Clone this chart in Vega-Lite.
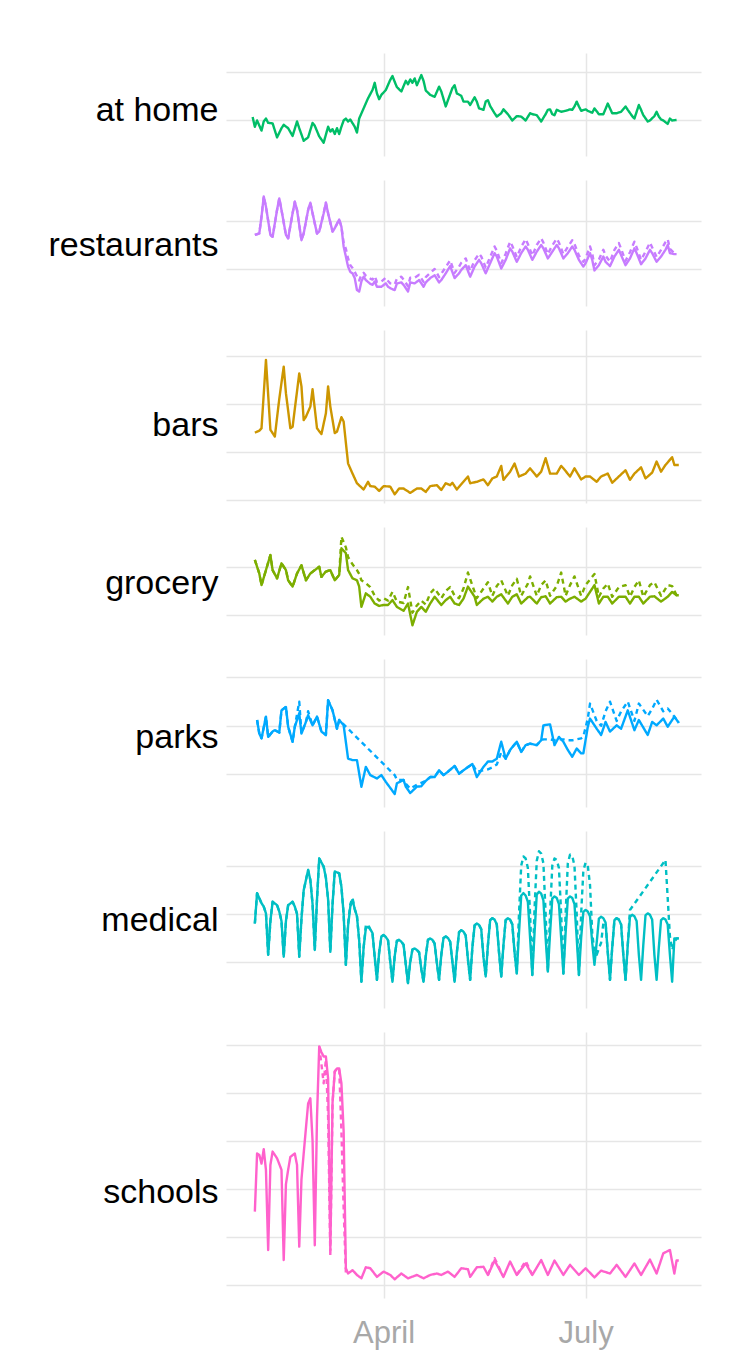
{
  "$schema": "https://vega.github.io/schema/vega-lite/v6.json",
  "background": "white",
  "padding": {"left": 47, "top": 53, "right": 20, "bottom": 10},
  "config": {
    "view": {"stroke": null},
    "axis": {"grid": true, "gridColor": "#e6e6e6", "gridWidth": 1.5, "domain": false, "ticks": false, "labels": false},
    "axisY": {"titleAngle": 0, "titleAlign": "right", "titleBaseline": "alphabetic", "titleX": -8, "titleFont": "Liberation Sans", "titleFontSize": 34, "titleFontWeight": "normal", "titleColor": "#000000"},
    "line": {"strokeWidth": 2.4, "strokeJoin": "round"}
  },
  "datasets": {
    "home": [
      {"t":"2020-02-02","v":0.06},{"t":"2020-02-03","v":-0.14},{"t":"2020-02-04","v":-0.01},{"t":"2020-02-06","v":-0.22},{"t":"2020-02-07","v":-0.03},{"t":"2020-02-08","v":0.03},{"t":"2020-02-09","v":-0.06},{"t":"2020-02-11","v":-0.07},{"t":"2020-02-13","v":-0.36},{"t":"2020-02-15","v":-0.17},{"t":"2020-02-16","v":-0.10},{"t":"2020-02-18","v":-0.17},{"t":"2020-02-20","v":-0.33},{"t":"2020-02-22","v":-0.03},{"t":"2020-02-23","v":-0.17},{"t":"2020-02-25","v":-0.43},{"t":"2020-02-27","v":-0.36},{"t":"2020-02-29","v":-0.06},
      {"t":"2020-03-01","v":-0.12},{"t":"2020-03-03","v":-0.34},{"t":"2020-03-05","v":-0.47},{"t":"2020-03-07","v":-0.14},{"t":"2020-03-08","v":-0.24},{"t":"2020-03-09","v":-0.19},{"t":"2020-03-10","v":-0.29},{"t":"2020-03-11","v":-0.17},{"t":"2020-03-12","v":-0.29},{"t":"2020-03-13","v":-0.14},{"t":"2020-03-14","v":-0.01},{"t":"2020-03-15","v":0.03},{"t":"2020-03-16","v":-0.03},{"t":"2020-03-17","v":0.01},{"t":"2020-03-19","v":-0.14},{"t":"2020-03-20","v":-0.26},{"t":"2020-03-21","v":0.03},{"t":"2020-03-23","v":0.24},{"t":"2020-03-25","v":0.45},{"t":"2020-03-27","v":0.62},{"t":"2020-03-28","v":0.77},{"t":"2020-03-29","v":0.55},{"t":"2020-03-30","v":0.43},{"t":"2020-03-31","v":0.52},
      {"t":"2020-04-02","v":0.62},{"t":"2020-04-04","v":0.83},{"t":"2020-04-05","v":0.91},{"t":"2020-04-06","v":0.79},{"t":"2020-04-07","v":0.68},{"t":"2020-04-09","v":0.59},{"t":"2020-04-11","v":0.81},{"t":"2020-04-12","v":0.74},{"t":"2020-04-13","v":0.84},{"t":"2020-04-14","v":0.77},{"t":"2020-04-15","v":0.86},{"t":"2020-04-16","v":0.72},{"t":"2020-04-18","v":0.93},{"t":"2020-04-19","v":0.81},{"t":"2020-04-20","v":0.61},{"t":"2020-04-22","v":0.52},{"t":"2020-04-24","v":0.48},{"t":"2020-04-26","v":0.69},{"t":"2020-04-27","v":0.59},{"t":"2020-04-29","v":0.28},{"t":"2020-04-30","v":0.41},
      {"t":"2020-05-02","v":0.66},{"t":"2020-05-03","v":0.72},{"t":"2020-05-04","v":0.55},{"t":"2020-05-06","v":0.50},{"t":"2020-05-07","v":0.38},{"t":"2020-05-09","v":0.38},{"t":"2020-05-10","v":0.31},{"t":"2020-05-12","v":0.47},{"t":"2020-05-13","v":0.38},{"t":"2020-05-14","v":0.24},{"t":"2020-05-16","v":0.21},{"t":"2020-05-17","v":0.38},{"t":"2020-05-18","v":0.41},{"t":"2020-05-19","v":0.29},{"t":"2020-05-21","v":0.14},{"t":"2020-05-22","v":0.07},{"t":"2020-05-24","v":0.14},{"t":"2020-05-25","v":0.22},{"t":"2020-05-27","v":0.12},{"t":"2020-05-29","v":-0.01},{"t":"2020-05-31","v":0.08},
      {"t":"2020-06-02","v":0.07},{"t":"2020-06-04","v":-0.01},{"t":"2020-06-06","v":0.14},{"t":"2020-06-07","v":0.12},{"t":"2020-06-09","v":0.10},{"t":"2020-06-11","v":-0.03},{"t":"2020-06-13","v":0.12},{"t":"2020-06-14","v":0.21},{"t":"2020-06-15","v":0.22},{"t":"2020-06-16","v":0.12},{"t":"2020-06-17","v":0.10},{"t":"2020-06-18","v":0.21},{"t":"2020-06-20","v":0.17},{"t":"2020-06-22","v":0.19},{"t":"2020-06-24","v":0.22},{"t":"2020-06-25","v":0.21},{"t":"2020-06-26","v":0.28},{"t":"2020-06-27","v":0.38},{"t":"2020-06-28","v":0.28},{"t":"2020-06-29","v":0.19},
      {"t":"2020-07-01","v":0.22},{"t":"2020-07-02","v":0.19},{"t":"2020-07-04","v":0.15},{"t":"2020-07-05","v":0.24},{"t":"2020-07-07","v":0.12},{"t":"2020-07-09","v":0.12},{"t":"2020-07-11","v":0.34},{"t":"2020-07-12","v":0.24},{"t":"2020-07-13","v":0.14},{"t":"2020-07-15","v":0.14},{"t":"2020-07-17","v":0.17},{"t":"2020-07-19","v":0.28},{"t":"2020-07-20","v":0.21},{"t":"2020-07-22","v":0.08},{"t":"2020-07-23","v":0.03},{"t":"2020-07-25","v":0.31},{"t":"2020-07-26","v":0.21},{"t":"2020-07-27","v":0.10},{"t":"2020-07-29","v":-0.03},{"t":"2020-07-30","v":-0.01},
      {"t":"2020-08-01","v":0.08},{"t":"2020-08-02","v":0.17},{"t":"2020-08-03","v":0.07},{"t":"2020-08-04","v":0.01},{"t":"2020-08-05","v":-0.01},{"t":"2020-08-07","v":-0.08},{"t":"2020-08-08","v":0.03},{"t":"2020-08-09","v":-0.01},{"t":"2020-08-11","v":0.00}
    ],
    "restaurants": [
      {"t":"2020-02-03","v":0.71,"d":0.71},{"t":"2020-02-05","v":0.74,"d":0.74},{"t":"2020-02-06","v":1.09,"d":1.09},{"t":"2020-02-07","v":1.51,"d":1.51},{"t":"2020-02-08","v":1.30,"d":1.30},{"t":"2020-02-10","v":0.71,"d":0.71},{"t":"2020-02-11","v":0.67,"d":0.67},{"t":"2020-02-13","v":1.23,"d":1.23},{"t":"2020-02-14","v":1.47,"d":1.47},{"t":"2020-02-15","v":1.23,"d":1.23},{"t":"2020-02-17","v":0.71,"d":0.71},{"t":"2020-02-18","v":0.64,"d":0.64},{"t":"2020-02-20","v":1.16,"d":1.16},{"t":"2020-02-21","v":1.40,"d":1.40},{"t":"2020-02-22","v":1.23,"d":1.23},{"t":"2020-02-24","v":0.60,"d":0.60},{"t":"2020-02-25","v":0.74,"d":0.74},{"t":"2020-02-27","v":1.23,"d":1.23},{"t":"2020-02-28","v":1.38,"d":1.38},{"t":"2020-02-29","v":1.16,"d":1.16},
      {"t":"2020-03-02","v":0.74,"d":0.74},{"t":"2020-03-03","v":0.78,"d":0.78},{"t":"2020-03-05","v":1.16,"d":1.16},{"t":"2020-03-06","v":1.38,"d":1.38},{"t":"2020-03-07","v":1.16,"d":1.16},{"t":"2020-03-09","v":0.78,"d":0.78},{"t":"2020-03-10","v":0.85,"d":0.85},{"t":"2020-03-12","v":1.03,"d":1.03},{"t":"2020-03-13","v":0.88,"d":0.88},{"t":"2020-03-14","v":0.47,"d":0.55},{"t":"2020-03-15","v":0.26,"d":0.42},{"t":"2020-03-16","v":0.05,"d":0.22},{"t":"2020-03-17","v":-0.06,"d":0.08},{"t":"2020-03-18","v":-0.09,"d":0.02},{"t":"2020-03-19","v":-0.19,"d":-0.06},{"t":"2020-03-20","v":-0.44,"d":-0.15},{"t":"2020-03-21","v":-0.47,"d":-0.24},{"t":"2020-03-22","v":-0.26,"d":-0.12},{"t":"2020-03-23","v":-0.16,"d":-0.08},{"t":"2020-03-24","v":-0.23,"d":-0.14},{"t":"2020-03-26","v":-0.31,"d":-0.20},{"t":"2020-03-27","v":-0.33,"d":-0.22},{"t":"2020-03-28","v":-0.26,"d":-0.15},{"t":"2020-03-29","v":-0.37,"d":-0.27},{"t":"2020-03-31","v":-0.37,"d":-0.26},
      {"t":"2020-04-02","v":-0.30,"d":-0.18},{"t":"2020-04-03","v":-0.37,"d":-0.25},{"t":"2020-04-04","v":-0.40,"d":-0.30},{"t":"2020-04-06","v":-0.44,"d":-0.32},{"t":"2020-04-07","v":-0.30,"d":-0.20},{"t":"2020-04-09","v":-0.28,"d":-0.16},{"t":"2020-04-10","v":-0.33,"d":-0.22},{"t":"2020-04-12","v":-0.47,"d":-0.36},{"t":"2020-04-13","v":-0.28,"d":-0.18},{"t":"2020-04-15","v":-0.30,"d":-0.18},{"t":"2020-04-17","v":-0.23,"d":-0.12},{"t":"2020-04-19","v":-0.37,"d":-0.27},{"t":"2020-04-20","v":-0.28,"d":-0.17},{"t":"2020-04-22","v":-0.19,"d":-0.08},{"t":"2020-04-24","v":-0.13,"d":0.00},{"t":"2020-04-26","v":-0.28,"d":-0.17},{"t":"2020-04-27","v":-0.23,"d":-0.10},{"t":"2020-04-29","v":-0.09,"d":0.04},
      {"t":"2020-05-01","v":0.06,"d":0.18},{"t":"2020-05-03","v":-0.19,"d":-0.08},{"t":"2020-05-05","v":-0.09,"d":0.05},{"t":"2020-05-06","v":-0.02,"d":0.13},{"t":"2020-05-08","v":0.08,"d":0.22},{"t":"2020-05-10","v":-0.16,"d":-0.04},{"t":"2020-05-12","v":0.05,"d":0.18},{"t":"2020-05-14","v":0.19,"d":0.32},{"t":"2020-05-15","v":0.12,"d":0.26},{"t":"2020-05-17","v":-0.09,"d":0.03},{"t":"2020-05-19","v":0.12,"d":0.25},{"t":"2020-05-21","v":0.33,"d":0.47},{"t":"2020-05-22","v":0.26,"d":0.38},{"t":"2020-05-24","v":0.01,"d":0.12},{"t":"2020-05-26","v":0.19,"d":0.32},{"t":"2020-05-28","v":0.43,"d":0.57},{"t":"2020-05-29","v":0.36,"d":0.48},{"t":"2020-05-31","v":0.15,"d":0.25},
      {"t":"2020-06-02","v":0.33,"d":0.46},{"t":"2020-06-04","v":0.47,"d":0.62},{"t":"2020-06-05","v":0.40,"d":0.52},{"t":"2020-06-07","v":0.19,"d":0.28},{"t":"2020-06-09","v":0.36,"d":0.50},{"t":"2020-06-11","v":0.50,"d":0.64},{"t":"2020-06-12","v":0.43,"d":0.55},{"t":"2020-06-14","v":0.22,"d":0.31},{"t":"2020-06-16","v":0.36,"d":0.49},{"t":"2020-06-18","v":0.50,"d":0.63},{"t":"2020-06-19","v":0.43,"d":0.55},{"t":"2020-06-21","v":0.22,"d":0.31},{"t":"2020-06-23","v":0.33,"d":0.46},{"t":"2020-06-25","v":0.47,"d":0.60},{"t":"2020-06-26","v":0.40,"d":0.52},{"t":"2020-06-28","v":0.19,"d":0.28},{"t":"2020-06-30","v":0.05,"d":0.15},
      {"t":"2020-07-01","v":0.12,"d":0.22},{"t":"2020-07-03","v":0.33,"d":0.47},{"t":"2020-07-04","v":0.19,"d":0.32},{"t":"2020-07-05","v":-0.03,"d":0.08},{"t":"2020-07-07","v":0.08,"d":0.20},{"t":"2020-07-09","v":0.26,"d":0.40},{"t":"2020-07-10","v":0.15,"d":0.28},{"t":"2020-07-12","v":0.06,"d":0.15},{"t":"2020-07-14","v":0.26,"d":0.40},{"t":"2020-07-16","v":0.40,"d":0.54},{"t":"2020-07-17","v":0.29,"d":0.42},{"t":"2020-07-19","v":0.08,"d":0.17},{"t":"2020-07-21","v":0.22,"d":0.35},{"t":"2020-07-23","v":0.43,"d":0.57},{"t":"2020-07-24","v":0.33,"d":0.45},{"t":"2020-07-26","v":0.10,"d":0.19},{"t":"2020-07-28","v":0.22,"d":0.36},{"t":"2020-07-30","v":0.40,"d":0.55},{"t":"2020-07-31","v":0.33,"d":0.45},
      {"t":"2020-08-02","v":0.15,"d":0.25},{"t":"2020-08-04","v":0.26,"d":0.40},{"t":"2020-08-06","v":0.40,"d":0.56},{"t":"2020-08-07","v":0.50,"d":0.62},{"t":"2020-08-08","v":0.33,"d":0.42},{"t":"2020-08-10","v":0.31,"d":0.33},{"t":"2020-08-11","v":0.31,"d":0.31}
    ],
    "bars": [
      {"t":"2020-02-03","v":1.40},{"t":"2020-02-05","v":1.44},{"t":"2020-02-06","v":1.49},{"t":"2020-02-08","v":2.91},{"t":"2020-02-10","v":1.46},{"t":"2020-02-12","v":1.32},{"t":"2020-02-14","v":2.10},{"t":"2020-02-16","v":2.77},{"t":"2020-02-17","v":2.22},{"t":"2020-02-19","v":1.49},{"t":"2020-02-20","v":1.52},{"t":"2020-02-23","v":2.63},{"t":"2020-02-24","v":2.36},{"t":"2020-02-25","v":1.66},{"t":"2020-02-26","v":1.73},{"t":"2020-02-28","v":1.94},{"t":"2020-02-29","v":2.30},
      {"t":"2020-03-02","v":1.49},{"t":"2020-03-04","v":1.37},{"t":"2020-03-06","v":1.80},{"t":"2020-03-07","v":2.36},{"t":"2020-03-08","v":1.94},{"t":"2020-03-10","v":1.39},{"t":"2020-03-11","v":1.42},{"t":"2020-03-13","v":1.72},{"t":"2020-03-14","v":1.63},{"t":"2020-03-16","v":0.76},{"t":"2020-03-18","v":0.55},{"t":"2020-03-20","v":0.35},{"t":"2020-03-23","v":0.22},{"t":"2020-03-25","v":0.38},{"t":"2020-03-26","v":0.29},{"t":"2020-03-28","v":0.28},{"t":"2020-03-30","v":0.19},
      {"t":"2020-04-01","v":0.29},{"t":"2020-04-04","v":0.28},{"t":"2020-04-06","v":0.12},{"t":"2020-04-08","v":0.24},{"t":"2020-04-10","v":0.24},{"t":"2020-04-13","v":0.15},{"t":"2020-04-16","v":0.24},{"t":"2020-04-18","v":0.24},{"t":"2020-04-20","v":0.17},{"t":"2020-04-22","v":0.29},{"t":"2020-04-25","v":0.31},{"t":"2020-04-27","v":0.21},{"t":"2020-04-29","v":0.35},
      {"t":"2020-05-01","v":0.31},{"t":"2020-05-02","v":0.36},{"t":"2020-05-04","v":0.22},{"t":"2020-05-06","v":0.33},{"t":"2020-05-09","v":0.49},{"t":"2020-05-10","v":0.35},{"t":"2020-05-13","v":0.38},{"t":"2020-05-16","v":0.43},{"t":"2020-05-18","v":0.31},{"t":"2020-05-20","v":0.45},{"t":"2020-05-22","v":0.49},{"t":"2020-05-24","v":0.71},{"t":"2020-05-25","v":0.42},{"t":"2020-05-28","v":0.59},{"t":"2020-05-30","v":0.76},
      {"t":"2020-06-01","v":0.49},{"t":"2020-06-04","v":0.55},{"t":"2020-06-06","v":0.66},{"t":"2020-06-09","v":0.49},{"t":"2020-06-11","v":0.59},{"t":"2020-06-13","v":0.87},{"t":"2020-06-15","v":0.55},{"t":"2020-06-18","v":0.55},{"t":"2020-06-20","v":0.71},{"t":"2020-06-21","v":0.66},{"t":"2020-06-24","v":0.49},{"t":"2020-06-26","v":0.66},{"t":"2020-06-29","v":0.43},
      {"t":"2020-07-01","v":0.49},{"t":"2020-07-03","v":0.49},{"t":"2020-07-06","v":0.38},{"t":"2020-07-08","v":0.49},{"t":"2020-07-11","v":0.55},{"t":"2020-07-13","v":0.36},{"t":"2020-07-16","v":0.49},{"t":"2020-07-19","v":0.62},{"t":"2020-07-21","v":0.42},{"t":"2020-07-23","v":0.55},{"t":"2020-07-26","v":0.68},{"t":"2020-07-28","v":0.45},{"t":"2020-07-31","v":0.57},
      {"t":"2020-08-02","v":0.80},{"t":"2020-08-04","v":0.59},{"t":"2020-08-06","v":0.73},{"t":"2020-08-09","v":0.89},{"t":"2020-08-10","v":0.73},{"t":"2020-08-12","v":0.73}
    ],
    "grocery": [
      {"t":"2020-02-03","v":1.14,"d":1.14},{"t":"2020-02-05","v":0.86,"d":0.86},{"t":"2020-02-06","v":0.62,"d":0.62},{"t":"2020-02-08","v":0.93,"d":0.93},{"t":"2020-02-10","v":1.24,"d":1.24},{"t":"2020-02-11","v":0.93,"d":0.93},{"t":"2020-02-13","v":0.76,"d":0.76},{"t":"2020-02-15","v":1.07,"d":1.07},{"t":"2020-02-17","v":0.93,"d":0.93},{"t":"2020-02-18","v":0.72,"d":0.72},{"t":"2020-02-20","v":0.59,"d":0.59},{"t":"2020-02-22","v":0.86,"d":0.86},{"t":"2020-02-24","v":1.03,"d":1.03},{"t":"2020-02-26","v":0.72,"d":0.72},{"t":"2020-02-28","v":0.86,"d":0.86},
      {"t":"2020-03-01","v":0.93,"d":0.93},{"t":"2020-03-03","v":1.00,"d":1.00},{"t":"2020-03-04","v":0.79,"d":0.79},{"t":"2020-03-06","v":0.90,"d":0.90},{"t":"2020-03-08","v":0.93,"d":0.93},{"t":"2020-03-10","v":0.72,"d":0.72},{"t":"2020-03-12","v":0.83,"d":0.83},{"t":"2020-03-13","v":1.38,"d":1.62},{"t":"2020-03-15","v":1.28,"d":1.40},{"t":"2020-03-16","v":0.93,"d":1.20},{"t":"2020-03-18","v":0.76,"d":1.05},{"t":"2020-03-20","v":0.72,"d":0.93},{"t":"2020-03-21","v":0.59,"d":0.85},{"t":"2020-03-22","v":0.17,"d":0.72},{"t":"2020-03-24","v":0.45,"d":0.66},{"t":"2020-03-26","v":0.38,"d":0.58},{"t":"2020-03-28","v":0.24,"d":0.40},{"t":"2020-03-30","v":0.19,"d":0.30},
      {"t":"2020-04-01","v":0.21,"d":0.35},{"t":"2020-04-03","v":0.21,"d":0.30},{"t":"2020-04-05","v":0.31,"d":0.48},{"t":"2020-04-07","v":0.17,"d":0.28},{"t":"2020-04-10","v":0.09,"d":0.25},{"t":"2020-04-12","v":0.24,"d":0.58},{"t":"2020-04-14","v":-0.21,"d":0.05},{"t":"2020-04-16","v":0.07,"d":0.20},{"t":"2020-04-18","v":0.17,"d":0.30},{"t":"2020-04-20","v":0.07,"d":0.22},{"t":"2020-04-22","v":0.24,"d":0.45},{"t":"2020-04-24","v":0.38,"d":0.55},{"t":"2020-04-27","v":0.21,"d":0.35},{"t":"2020-04-29","v":0.31,"d":0.50},
      {"t":"2020-05-01","v":0.38,"d":0.58},{"t":"2020-05-03","v":0.24,"d":0.40},{"t":"2020-05-05","v":0.21,"d":0.35},{"t":"2020-05-07","v":0.34,"d":0.55},{"t":"2020-05-09","v":0.59,"d":0.88},{"t":"2020-05-12","v":0.38,"d":0.48},{"t":"2020-05-13","v":0.21,"d":0.35},{"t":"2020-05-16","v":0.34,"d":0.55},{"t":"2020-05-18","v":0.38,"d":0.68},{"t":"2020-05-20","v":0.28,"d":0.40},{"t":"2020-05-22","v":0.38,"d":0.60},{"t":"2020-05-24","v":0.43,"d":0.72},{"t":"2020-05-27","v":0.24,"d":0.40},{"t":"2020-05-29","v":0.38,"d":0.62},{"t":"2020-05-31","v":0.43,"d":0.75},
      {"t":"2020-06-02","v":0.24,"d":0.40},{"t":"2020-06-05","v":0.37,"d":0.65},{"t":"2020-06-06","v":0.38,"d":0.80},{"t":"2020-06-09","v":0.24,"d":0.40},{"t":"2020-06-11","v":0.37,"d":0.62},{"t":"2020-06-13","v":0.39,"d":0.72},{"t":"2020-06-15","v":0.24,"d":0.40},{"t":"2020-06-18","v":0.37,"d":0.60},{"t":"2020-06-20","v":0.38,"d":0.88},{"t":"2020-06-22","v":0.28,"d":0.40},{"t":"2020-06-24","v":0.34,"d":0.62},{"t":"2020-06-26","v":0.38,"d":0.80},{"t":"2020-06-29","v":0.28,"d":0.40},
      {"t":"2020-07-01","v":0.34,"d":0.62},{"t":"2020-07-05","v":0.62,"d":0.85},{"t":"2020-07-07","v":0.24,"d":0.38},{"t":"2020-07-09","v":0.38,"d":0.55},{"t":"2020-07-11","v":0.38,"d":0.65},{"t":"2020-07-13","v":0.24,"d":0.38},{"t":"2020-07-16","v":0.38,"d":0.58},{"t":"2020-07-19","v":0.38,"d":0.62},{"t":"2020-07-21","v":0.24,"d":0.38},{"t":"2020-07-23","v":0.38,"d":0.58},{"t":"2020-07-25","v":0.38,"d":0.72},{"t":"2020-07-27","v":0.24,"d":0.38},{"t":"2020-07-30","v":0.38,"d":0.62},
      {"t":"2020-08-01","v":0.39,"d":0.68},{"t":"2020-08-04","v":0.28,"d":0.40},{"t":"2020-08-07","v":0.38,"d":0.62},{"t":"2020-08-09","v":0.48,"d":0.60},{"t":"2020-08-11","v":0.41,"d":0.41},{"t":"2020-08-12","v":0.41,"d":0.41}
    ],
    "parks": [
      {"t":"2020-02-04","v":1.12,"d":1.12},{"t":"2020-02-05","v":0.84,"d":0.84},{"t":"2020-02-06","v":0.74,"d":0.74},{"t":"2020-02-08","v":1.19,"d":1.19},{"t":"2020-02-09","v":0.77,"d":0.77},{"t":"2020-02-11","v":0.88,"d":0.88},{"t":"2020-02-12","v":0.91,"d":0.91},{"t":"2020-02-14","v":0.86,"d":0.86},{"t":"2020-02-15","v":1.32,"d":1.32},{"t":"2020-02-17","v":1.39,"d":1.39},{"t":"2020-02-18","v":0.98,"d":0.98},{"t":"2020-02-20","v":0.67,"d":0.67},{"t":"2020-02-21","v":0.98,"d":0.98},{"t":"2020-02-23","v":1.26,"d":1.50},{"t":"2020-02-24","v":0.84,"d":0.84},{"t":"2020-02-26","v":1.08,"d":1.08},{"t":"2020-02-27","v":1.22,"d":1.30},{"t":"2020-02-29","v":1.01,"d":1.01},
      {"t":"2020-03-02","v":1.19,"d":1.19},{"t":"2020-03-04","v":0.88,"d":0.88},{"t":"2020-03-06","v":0.81,"d":0.81},{"t":"2020-03-07","v":1.53,"d":1.53},{"t":"2020-03-09","v":1.32,"d":1.32},{"t":"2020-03-11","v":0.94,"d":0.94},{"t":"2020-03-12","v":1.12,"d":1.12},{"t":"2020-03-14","v":1.01},{"t":"2020-03-16","v":0.32},{"t":"2020-03-18","v":0.29},{"t":"2020-03-20","v":0.29},{"t":"2020-03-22","v":-0.26},{"t":"2020-03-24","v":0.15},{"t":"2020-03-26","v":-0.02},{"t":"2020-03-29","v":-0.09},{"t":"2020-03-31","v":-0.02},
      {"t":"2020-04-02","v":-0.16},{"t":"2020-04-06","v":-0.41,"d":-0.02},{"t":"2020-04-07","v":-0.19,"d":-0.12},{"t":"2020-04-10","v":-0.12,"d":-0.12},{"t":"2020-04-11","v":-0.26,"d":-0.20},{"t":"2020-04-13","v":-0.39,"d":-0.30},{"t":"2020-04-16","v":-0.26,"d":-0.22},{"t":"2020-04-18","v":-0.25,"d":-0.18},{"t":"2020-04-20","v":-0.14,"d":-0.14},{"t":"2020-04-22","v":-0.06,"d":-0.06},{"t":"2020-04-24","v":-0.06,"d":-0.06},{"t":"2020-04-26","v":0.08,"d":0.08},{"t":"2020-04-28","v":-0.02,"d":-0.02},{"t":"2020-04-30","v":0.05,"d":0.05},
      {"t":"2020-05-03","v":0.17,"d":0.17},{"t":"2020-05-05","v":0.01,"d":0.01},{"t":"2020-05-07","v":0.08,"d":0.08},{"t":"2020-05-11","v":0.21,"d":0.21},{"t":"2020-05-13","v":-0.06,"d":0.05},{"t":"2020-05-16","v":0.15,"d":0.08},{"t":"2020-05-18","v":0.26,"d":0.10},{"t":"2020-05-20","v":0.26,"d":0.14},{"t":"2020-05-22","v":0.32,"d":0.20},{"t":"2020-05-24","v":0.67,"d":0.45},{"t":"2020-05-26","v":0.32,"d":0.32},{"t":"2020-05-28","v":0.50,"d":0.50},{"t":"2020-05-31","v":0.67,"d":0.67},
      {"t":"2020-06-02","v":0.46,"d":0.46},{"t":"2020-06-04","v":0.60,"d":0.60},{"t":"2020-06-06","v":0.63,"d":0.63},{"t":"2020-06-09","v":0.60,"d":0.60},{"t":"2020-06-11","v":0.70,"d":0.70},{"t":"2020-06-12","v":1.01,"d":0.72},{"t":"2020-06-15","v":1.03,"d":0.72},{"t":"2020-06-17","v":0.60,"d":0.70},{"t":"2020-06-19","v":0.77,"d":0.72},{"t":"2020-06-21","v":0.67,"d":0.72},{"t":"2020-06-23","v":0.50,"d":0.70},{"t":"2020-06-25","v":0.36,"d":0.70},{"t":"2020-06-27","v":0.53,"d":0.72},{"t":"2020-06-29","v":0.43,"d":0.74},{"t":"2020-06-30","v":0.43,"d":0.78},
      {"t":"2020-07-02","v":0.98,"d":1.15},{"t":"2020-07-03","v":1.15,"d":1.46},{"t":"2020-07-06","v":0.94,"d":1.10},{"t":"2020-07-08","v":0.81,"d":1.00},{"t":"2020-07-10","v":1.08,"d":1.30},{"t":"2020-07-12","v":0.88,"d":1.50},{"t":"2020-07-15","v":1.01,"d":1.10},{"t":"2020-07-17","v":0.94,"d":1.30},{"t":"2020-07-20","v":1.32,"d":1.50},{"t":"2020-07-23","v":0.91,"d":1.10},{"t":"2020-07-25","v":1.12,"d":1.46},{"t":"2020-07-29","v":0.81,"d":1.20},{"t":"2020-07-31","v":1.08,"d":1.35},
      {"t":"2020-08-02","v":1.01,"d":1.54},{"t":"2020-08-05","v":1.15,"d":1.30},{"t":"2020-08-07","v":0.98,"d":1.36},{"t":"2020-08-10","v":1.19,"d":1.19},{"t":"2020-08-12","v":1.06,"d":1.06}
    ],
    "medical": [
      {"t":"2020-02-03","v":0.80,"d":0.80},{"t":"2020-02-04","v":1.43,"d":1.43},{"t":"2020-02-06","v":1.22,"d":1.22},{"t":"2020-02-07","v":1.15,"d":1.15},{"t":"2020-02-08","v":1.01,"d":1.01},
      {"t":"2020-02-09","v":0.15,"d":0.15},{"t":"2020-02-10","v":0.85,"d":0.85},{"t":"2020-02-11","v":1.25,"d":1.25},{"t":"2020-02-13","v":1.18,"d":1.18},{"t":"2020-02-14","v":1.05,"d":1.05},{"t":"2020-02-15","v":0.85,"d":0.85},
      {"t":"2020-02-16","v":0.11,"d":0.11},{"t":"2020-02-17","v":0.85,"d":0.85},{"t":"2020-02-18","v":1.18,"d":1.18},{"t":"2020-02-20","v":1.25,"d":1.25},{"t":"2020-02-21","v":1.15,"d":1.15},{"t":"2020-02-22","v":1.00,"d":1.00},
      {"t":"2020-02-23","v":0.11,"d":0.11},{"t":"2020-02-24","v":0.90,"d":0.90},{"t":"2020-02-25","v":1.49,"d":1.49},{"t":"2020-02-27","v":1.91,"d":1.91},{"t":"2020-02-28","v":1.70,"d":1.70},{"t":"2020-02-29","v":1.20,"d":1.20},
      {"t":"2020-03-01","v":0.25,"d":0.25},{"t":"2020-03-02","v":1.30,"d":1.30},{"t":"2020-03-03","v":2.15,"d":2.15},{"t":"2020-03-05","v":1.98,"d":1.98},{"t":"2020-03-06","v":1.75,"d":1.75},{"t":"2020-03-07","v":1.30,"d":1.30},
      {"t":"2020-03-08","v":0.21,"d":0.21},{"t":"2020-03-09","v":1.20,"d":1.20},{"t":"2020-03-10","v":1.88,"d":1.88},{"t":"2020-03-12","v":1.84,"d":1.84},{"t":"2020-03-13","v":1.56,"d":1.56},{"t":"2020-03-14","v":1.00,"d":1.00},
      {"t":"2020-03-15","v":-0.06,"d":-0.06},{"t":"2020-03-16","v":0.75,"d":0.80},{"t":"2020-03-17","v":1.15,"d":1.20},{"t":"2020-03-18","v":1.29,"d":1.33},{"t":"2020-03-19","v":1.10,"d":1.10},{"t":"2020-03-20","v":0.95,"d":0.95},{"t":"2020-03-21","v":0.45,"d":0.45},
      {"t":"2020-03-22","v":-0.41,"d":-0.41},{"t":"2020-03-23","v":0.30,"d":0.30},{"t":"2020-03-24","v":0.70,"d":0.76},{"t":"2020-03-25","v":0.73,"d":0.78},{"t":"2020-03-26","v":0.68,"d":0.68},{"t":"2020-03-27","v":0.60,"d":0.60},{"t":"2020-03-28","v":0.10,"d":0.10},
      {"t":"2020-03-29","v":-0.37,"d":-0.37},{"t":"2020-03-30","v":0.20,"d":0.20},{"t":"2020-03-31","v":0.53,"d":0.53},{"t":"2020-04-01","v":0.56,"d":0.56},{"t":"2020-04-02","v":0.52,"d":0.52},{"t":"2020-04-03","v":0.45,"d":0.45},{"t":"2020-04-04","v":0.00,"d":0.00},
      {"t":"2020-04-05","v":-0.41,"d":-0.41},{"t":"2020-04-06","v":0.12,"d":0.12},{"t":"2020-04-07","v":0.44,"d":0.44},{"t":"2020-04-08","v":0.46,"d":0.46},{"t":"2020-04-09","v":0.42,"d":0.42},{"t":"2020-04-10","v":0.36,"d":0.36},{"t":"2020-04-11","v":-0.05,"d":-0.05},
      {"t":"2020-04-12","v":-0.44,"d":-0.44},{"t":"2020-04-13","v":0.00,"d":0.00},{"t":"2020-04-14","v":0.26,"d":0.26},{"t":"2020-04-15","v":0.28,"d":0.28},{"t":"2020-04-16","v":0.25,"d":0.25},{"t":"2020-04-17","v":0.20,"d":0.20},{"t":"2020-04-18","v":-0.15,"d":-0.15},
      {"t":"2020-04-19","v":-0.41,"d":-0.41},{"t":"2020-04-20","v":0.12,"d":0.12},{"t":"2020-04-21","v":0.46,"d":0.46},{"t":"2020-04-22","v":0.49,"d":0.49},{"t":"2020-04-23","v":0.46,"d":0.46},{"t":"2020-04-24","v":0.38,"d":0.38},{"t":"2020-04-25","v":-0.02,"d":-0.02},
      {"t":"2020-04-26","v":-0.37,"d":-0.37},{"t":"2020-04-27","v":0.15,"d":0.15},{"t":"2020-04-28","v":0.50,"d":0.50},{"t":"2020-04-29","v":0.53,"d":0.53},{"t":"2020-04-30","v":0.50,"d":0.50},{"t":"2020-05-01","v":0.42,"d":0.42},{"t":"2020-05-02","v":0.00,"d":0.00},
      {"t":"2020-05-03","v":-0.41,"d":-0.41},{"t":"2020-05-04","v":0.20,"d":0.20},{"t":"2020-05-05","v":0.62,"d":0.62},{"t":"2020-05-06","v":0.66,"d":0.66},{"t":"2020-05-07","v":0.63,"d":0.63},{"t":"2020-05-08","v":0.55,"d":0.55},{"t":"2020-05-09","v":0.05,"d":0.05},
      {"t":"2020-05-10","v":-0.37,"d":-0.37},{"t":"2020-05-11","v":0.30,"d":0.30},{"t":"2020-05-12","v":0.76,"d":0.76},{"t":"2020-05-13","v":0.80,"d":0.80},{"t":"2020-05-14","v":0.77,"d":0.77},{"t":"2020-05-15","v":0.68,"d":0.68},{"t":"2020-05-16","v":0.10,"d":0.10},
      {"t":"2020-05-17","v":-0.30,"d":-0.30},{"t":"2020-05-18","v":0.35,"d":0.35},{"t":"2020-05-19","v":0.87,"d":0.87},{"t":"2020-05-20","v":0.91,"d":0.91},{"t":"2020-05-21","v":0.88,"d":0.88},{"t":"2020-05-22","v":0.78,"d":0.78},{"t":"2020-05-23","v":0.20,"d":0.20},
      {"t":"2020-05-24","v":-0.30,"d":-0.30},{"t":"2020-05-25","v":0.35,"d":0.35},{"t":"2020-05-26","v":0.87,"d":0.87},{"t":"2020-05-27","v":0.91,"d":0.91},{"t":"2020-05-28","v":0.88,"d":0.88},{"t":"2020-05-29","v":0.78,"d":0.78},{"t":"2020-05-30","v":0.20,"d":0.20},
      {"t":"2020-05-31","v":-0.24,"d":-0.24},{"t":"2020-06-01","v":0.60,"d":1.00},{"t":"2020-06-02","v":1.38,"d":2.00},{"t":"2020-06-03","v":1.43,"d":2.19},{"t":"2020-06-04","v":1.38,"d":2.15},{"t":"2020-06-05","v":1.25,"d":1.95},{"t":"2020-06-06","v":0.50,"d":1.00},
      {"t":"2020-06-07","v":-0.27,"d":-0.27},{"t":"2020-06-08","v":0.60,"d":1.10},{"t":"2020-06-09","v":1.40,"d":2.10},{"t":"2020-06-10","v":1.46,"d":2.30},{"t":"2020-06-11","v":1.42,"d":2.25},{"t":"2020-06-12","v":1.28,"d":2.05},{"t":"2020-06-13","v":0.50,"d":1.00},
      {"t":"2020-06-14","v":-0.20,"d":-0.20},{"t":"2020-06-15","v":0.60,"d":1.00},{"t":"2020-06-16","v":1.32,"d":2.00},{"t":"2020-06-17","v":1.36,"d":2.15},{"t":"2020-06-18","v":1.33,"d":2.12},{"t":"2020-06-19","v":1.20,"d":1.95},{"t":"2020-06-20","v":0.50,"d":1.00},
      {"t":"2020-06-21","v":-0.24,"d":-0.24},{"t":"2020-06-22","v":0.60,"d":1.00},{"t":"2020-06-23","v":1.32,"d":2.05},{"t":"2020-06-24","v":1.36,"d":2.23},{"t":"2020-06-25","v":1.33,"d":2.20},{"t":"2020-06-26","v":1.20,"d":2.00},{"t":"2020-06-27","v":0.50,"d":1.00},
      {"t":"2020-06-28","v":-0.27,"d":-0.27},{"t":"2020-06-29","v":0.50,"d":1.00},{"t":"2020-06-30","v":1.04,"d":1.90},{"t":"2020-07-01","v":1.08,"d":2.06},{"t":"2020-07-02","v":1.05,"d":2.00},{"t":"2020-07-03","v":0.95,"d":1.60},{"t":"2020-07-04","v":0.40,"d":0.60},
      {"t":"2020-07-05","v":-0.06,"d":0.20},{"t":"2020-07-06","v":0.40,"d":0.15},{"t":"2020-07-07","v":0.90,"d":0.28},{"t":"2020-07-08","v":0.94,"d":0.40},{"t":"2020-07-09","v":0.91,"d":0.80},{"t":"2020-07-10","v":0.82,"d":0.82},{"t":"2020-07-11","v":0.20,"d":0.20},
      {"t":"2020-07-12","v":-0.37,"d":-0.37},{"t":"2020-07-13","v":0.30,"d":0.30},{"t":"2020-07-14","v":0.87,"d":0.87},{"t":"2020-07-15","v":0.91,"d":0.91},{"t":"2020-07-16","v":0.88,"d":0.88},{"t":"2020-07-17","v":0.78,"d":0.78},{"t":"2020-07-18","v":0.15,"d":0.15},
      {"t":"2020-07-19","v":-0.37,"d":-0.37},{"t":"2020-07-20","v":0.35,"d":0.35},{"t":"2020-07-21","v":0.94,"d":1.08},{"t":"2020-07-22","v":0.98},{"t":"2020-07-23","v":0.95},{"t":"2020-07-24","v":0.85},{"t":"2020-07-25","v":0.15},
      {"t":"2020-07-26","v":-0.37},{"t":"2020-07-27","v":0.35},{"t":"2020-07-28","v":0.97},{"t":"2020-07-29","v":1.01},{"t":"2020-07-30","v":0.98},{"t":"2020-07-31","v":0.88},{"t":"2020-08-01","v":0.15},
      {"t":"2020-08-02","v":-0.37},{"t":"2020-08-03","v":0.30},{"t":"2020-08-04","v":0.87},{"t":"2020-08-05","v":0.91},{"t":"2020-08-06","v":0.88,"d":2.12},{"t":"2020-08-07","v":0.78},{"t":"2020-08-08","v":0.15,"d":0.53},
      {"t":"2020-08-09","v":-0.41,"d":0.25},{"t":"2020-08-10","v":0.49,"d":0.40},{"t":"2020-08-11","v":0.49,"d":0.49},{"t":"2020-08-12","v":0.49,"d":0.49}
    ],
    "schools": [
      {"t":"2020-02-03","v":1.53},{"t":"2020-02-04","v":2.74},{"t":"2020-02-05","v":2.71},{"t":"2020-02-06","v":2.53},{"t":"2020-02-07","v":2.83},{"t":"2020-02-08","v":2.40},{"t":"2020-02-09","v":0.73},{"t":"2020-02-10","v":2.50},{"t":"2020-02-11","v":2.78},{"t":"2020-02-13","v":2.64},{"t":"2020-02-15","v":2.40},{"t":"2020-02-16","v":0.52},{"t":"2020-02-17","v":2.10},{"t":"2020-02-18","v":2.40},{"t":"2020-02-19","v":2.67},{"t":"2020-02-21","v":2.74},{"t":"2020-02-22","v":2.50},{"t":"2020-02-23","v":0.80},{"t":"2020-02-24","v":2.20},{"t":"2020-02-25","v":2.74},{"t":"2020-02-27","v":3.78},{"t":"2020-02-28","v":3.89},{"t":"2020-02-29","v":3.00},
      {"t":"2020-03-01","v":0.83},{"t":"2020-03-02","v":3.50},{"t":"2020-03-03","v":4.97,"d":4.97},{"t":"2020-03-04","v":4.85,"d":4.60},{"t":"2020-03-05","v":4.76,"d":4.20},{"t":"2020-03-06","v":4.76,"d":4.70},{"t":"2020-03-07","v":4.30,"d":3.50},{"t":"2020-03-08","v":0.73,"d":0.60},{"t":"2020-03-09","v":3.80,"d":3.80},{"t":"2020-03-10","v":4.45,"d":4.45},{"t":"2020-03-11","v":4.51,"d":4.51},{"t":"2020-03-12","v":4.51,"d":4.51},{"t":"2020-03-13","v":4.20,"d":3.20},{"t":"2020-03-14","v":3.20,"d":1.60},{"t":"2020-03-15","v":0.35,"d":0.25},{"t":"2020-03-16","v":0.24,"d":0.24},
      {"t":"2020-03-18","v":0.31},{"t":"2020-03-20","v":0.21},{"t":"2020-03-22","v":0.14},{"t":"2020-03-24","v":0.37},{"t":"2020-03-26","v":0.35},{"t":"2020-03-29","v":0.17},{"t":"2020-04-01","v":0.28},{"t":"2020-04-04","v":0.21},{"t":"2020-04-06","v":0.12},{"t":"2020-04-09","v":0.24},{"t":"2020-04-12","v":0.14},{"t":"2020-04-16","v":0.21},{"t":"2020-04-19","v":0.14},{"t":"2020-04-22","v":0.21},{"t":"2020-04-25","v":0.24},{"t":"2020-04-27","v":0.21},{"t":"2020-04-30","v":0.28},
      {"t":"2020-05-03","v":0.17},{"t":"2020-05-06","v":0.35},{"t":"2020-05-09","v":0.33},{"t":"2020-05-10","v":0.17},{"t":"2020-05-13","v":0.37},{"t":"2020-05-16","v":0.38},{"t":"2020-05-18","v":0.21,"d":0.21},{"t":"2020-05-21","v":0.51,"d":0.56},{"t":"2020-05-25","v":0.17,"d":0.17},{"t":"2020-05-28","v":0.49},{"t":"2020-05-31","v":0.21,"d":0.21},
      {"t":"2020-06-04","v":0.45,"d":0.50},{"t":"2020-06-07","v":0.21,"d":0.21},{"t":"2020-06-11","v":0.52},{"t":"2020-06-14","v":0.21},{"t":"2020-06-17","v":0.51},{"t":"2020-06-21","v":0.21},{"t":"2020-06-24","v":0.42},{"t":"2020-06-28","v":0.21},
      {"t":"2020-07-01","v":0.35},{"t":"2020-07-05","v":0.16},{"t":"2020-07-08","v":0.30},{"t":"2020-07-12","v":0.24},{"t":"2020-07-15","v":0.42},{"t":"2020-07-19","v":0.17},{"t":"2020-07-23","v":0.45},{"t":"2020-07-26","v":0.21},{"t":"2020-07-30","v":0.53},
      {"t":"2020-08-02","v":0.24},{"t":"2020-08-05","v":0.66},{"t":"2020-08-08","v":0.73},{"t":"2020-08-10","v":0.24},{"t":"2020-08-11","v":0.51},{"t":"2020-08-12","v":0.51}
    ]
  },
  "spacing": 24,
  "bounds": "flush",
  "vconcat": [
    {
      "width": 475, "height": 103,
      "data": {"name": "home"},
      "transform": [{"fold": ["v", "d"], "as": ["s", "y"]}, {"filter": "isValid(datum.y)"}],
      "mark": {"type": "line", "color": "#00BE67"},
      "encoding": {
        "x": {"field": "t", "type": "temporal", "title": null, "scale": {"type": "utc", "domain": [{"year": 2020, "month": 1, "date": 21, "utc": true}, {"year": 2020, "month": 8, "date": 22, "utc": true}]}, "axis": {"values": [{"year": 2020, "month": 4, "date": 1, "utc": true}, {"year": 2020, "month": 7, "date": 1, "utc": true}]}},
        "y": {"field": "y", "type": "quantitative", "scale": {"domain": [-0.745, 1.386], "nice": false, "zero": false}, "axis": {"values": [0, 1], "title": "at home", "titleY": 67}},
        "strokeDash": {"field": "s", "type": "nominal", "scale": {"domain": ["v", "d"], "range": [[1, 0], [5, 4]]}, "legend": null}
      }
    },
    {
      "width": 475, "height": 126,
      "data": {"name": "restaurants"},
      "transform": [{"fold": ["v", "d"], "as": ["s", "y"]}, {"filter": "isValid(datum.y)"}],
      "mark": {"type": "line", "color": "#C77CFF"},
      "encoding": {
        "x": {"field": "t", "type": "temporal", "title": null, "scale": {"type": "utc", "domain": [{"year": 2020, "month": 1, "date": 21, "utc": true}, {"year": 2020, "month": 8, "date": 22, "utc": true}]}, "axis": {"values": [{"year": 2020, "month": 4, "date": 1, "utc": true}, {"year": 2020, "month": 7, "date": 1, "utc": true}]}},
        "y": {"field": "y", "type": "quantitative", "scale": {"domain": [-0.771, 1.854], "nice": false, "zero": false}, "axis": {"values": [0, 1], "title": "restaurants", "titleY": 75}},
        "strokeDash": {"field": "s", "type": "nominal", "scale": {"domain": ["v", "d"], "range": [[1, 0], [5, 4]]}, "legend": null}
      }
    },
    {
      "width": 475, "height": 173,
      "data": {"name": "bars"},
      "transform": [{"fold": ["v", "d"], "as": ["s", "y"]}, {"filter": "isValid(datum.y)"}],
      "mark": {"type": "line", "color": "#CD9600"},
      "encoding": {
        "x": {"field": "t", "type": "temporal", "title": null, "scale": {"type": "utc", "domain": [{"year": 2020, "month": 1, "date": 21, "utc": true}, {"year": 2020, "month": 8, "date": 22, "utc": true}]}, "axis": {"values": [{"year": 2020, "month": 4, "date": 1, "utc": true}, {"year": 2020, "month": 7, "date": 1, "utc": true}]}},
        "y": {"field": "y", "type": "quantitative", "scale": {"domain": [-0.06, 3.53], "nice": false, "zero": false}, "axis": {"values": [0, 1, 2, 3], "title": "bars", "titleY": 105}},
        "strokeDash": {"field": "s", "type": "nominal", "scale": {"domain": ["v", "d"], "range": [[1, 0], [5, 4]]}, "legend": null}
      }
    },
    {
      "width": 475, "height": 108,
      "data": {"name": "grocery"},
      "transform": [{"fold": ["v", "d"], "as": ["s", "y"]}, {"filter": "isValid(datum.y)"}],
      "mark": {"type": "line", "color": "#7CAE00"},
      "encoding": {
        "x": {"field": "t", "type": "temporal", "title": null, "scale": {"type": "utc", "domain": [{"year": 2020, "month": 1, "date": 21, "utc": true}, {"year": 2020, "month": 8, "date": 22, "utc": true}]}, "axis": {"values": [{"year": 2020, "month": 4, "date": 1, "utc": true}, {"year": 2020, "month": 7, "date": 1, "utc": true}]}},
        "y": {"field": "y", "type": "quantitative", "scale": {"domain": [-0.41, 1.82], "nice": false, "zero": false}, "axis": {"values": [0, 1], "title": "grocery", "titleY": 66}},
        "strokeDash": {"field": "s", "type": "nominal", "scale": {"domain": ["v", "d"], "range": [[1, 0], [5, 4]]}, "legend": null}
      }
    },
    {
      "width": 475, "height": 148,
      "data": {"name": "parks"},
      "transform": [{"fold": ["v", "d"], "as": ["s", "y"]}, {"filter": "isValid(datum.y)"}],
      "mark": {"type": "line", "color": "#00A9FF"},
      "encoding": {
        "x": {"field": "t", "type": "temporal", "title": null, "scale": {"type": "utc", "domain": [{"year": 2020, "month": 1, "date": 21, "utc": true}, {"year": 2020, "month": 8, "date": 22, "utc": true}]}, "axis": {"values": [{"year": 2020, "month": 4, "date": 1, "utc": true}, {"year": 2020, "month": 7, "date": 1, "utc": true}]}},
        "y": {"field": "y", "type": "quantitative", "scale": {"domain": [-0.68, 2.382], "nice": false, "zero": false}, "axis": {"values": [0, 1, 2], "title": "parks", "titleY": 88}},
        "strokeDash": {"field": "s", "type": "nominal", "scale": {"domain": ["v", "d"], "range": [[1, 0], [5, 4]]}, "legend": null}
      }
    },
    {
      "width": 475, "height": 177,
      "data": {"name": "medical"},
      "transform": [{"fold": ["v", "d"], "as": ["s", "y"]}, {"filter": "isValid(datum.y)"}],
      "mark": {"type": "line", "color": "#00BFC4"},
      "encoding": {
        "x": {"field": "t", "type": "temporal", "title": null, "scale": {"type": "utc", "domain": [{"year": 2020, "month": 1, "date": 21, "utc": true}, {"year": 2020, "month": 8, "date": 22, "utc": true}]}, "axis": {"values": [{"year": 2020, "month": 4, "date": 1, "utc": true}, {"year": 2020, "month": 7, "date": 1, "utc": true}]}},
        "y": {"field": "y", "type": "quantitative", "scale": {"domain": [-0.955, 2.72], "nice": false, "zero": false}, "axis": {"values": [0, 1, 2], "title": "medical", "titleY": 99}},
        "strokeDash": {"field": "s", "type": "nominal", "scale": {"domain": ["v", "d"], "range": [[1, 0], [5, 4]]}, "legend": null}
      }
    },
    {
      "width": 475, "height": 266,
      "data": {"name": "schools"},
      "transform": [{"fold": ["v", "d"], "as": ["s", "y"]}],
      "mark": {"type": "line", "color": "#FF61CC", "invalid": "break-paths-filter-domains"},
      "encoding": {
        "x": {"field": "t", "type": "temporal", "title": null, "scale": {"type": "utc", "domain": [{"year": 2020, "month": 1, "date": 21, "utc": true}, {"year": 2020, "month": 8, "date": 22, "utc": true}]}, "axis": {"values": [{"year": 2020, "month": 4, "date": 1, "utc": true}, {"year": 2020, "month": 7, "date": 1, "utc": true}], "labels": true, "format": "%B", "formatType": "utc", "labelFont": "Liberation Sans", "labelFontSize": 31, "labelColor": "#a8a8a8", "labelPadding": 20}},
        "y": {"field": "y", "type": "quantitative", "scale": {"domain": [-0.27, 5.271], "nice": false, "zero": false}, "axis": {"values": [0, 1, 2, 3, 4, 5], "title": "schools", "titleY": 170}},
        "strokeDash": {"field": "s", "type": "nominal", "scale": {"domain": ["v", "d"], "range": [[1, 0], [5, 4]]}, "legend": null}
      }
    }
  ]
}
